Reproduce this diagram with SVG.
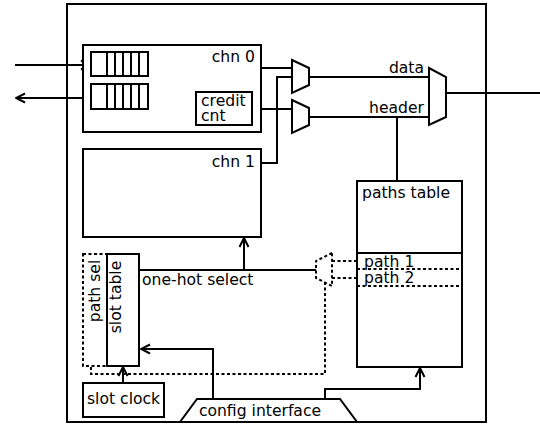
<svg xmlns="http://www.w3.org/2000/svg" width="540" height="424" viewBox="0 0 540 424">
  <style>
    .box { fill: #fff; stroke: #000; stroke-width: 2; }
    .ln { fill: none; stroke: #000; stroke-width: 2; }
    .dash { fill: none; stroke: #000; stroke-width: 2; stroke-dasharray: 3 2.5; }
    .lbl { font-family: "DejaVu Sans", sans-serif; font-size: 15.6px; fill: #000; }
    .r { text-anchor: end; }
    .m { text-anchor: middle; }
  </style>
  <defs>
    <marker id="arrow" viewBox="0 0 12 12" refX="11" refY="6" markerWidth="12" markerHeight="12" markerUnits="userSpaceOnUse" orient="auto">
      <polyline points="2,1.5 11,6 2,10.5" fill="none" stroke="#000" stroke-width="2"/>
    </marker>
  </defs>

  <!-- enclosing block -->
  <rect id="router" class="box" x="67" y="4" width="419" height="418"/>

  <!-- connectors -->
  <g id="connectors">
    <line class="ln" x1="15" y1="65" x2="90" y2="65" marker-end="url(#arrow)"/>
    <line class="ln" x1="91" y1="98" x2="16" y2="98" marker-end="url(#arrow)"/>
    <line class="ln" x1="148" y1="68" x2="292" y2="68"/>
    <polyline class="ln" points="261,163 277,163 277,77 292,77"/>
    <line class="ln" x1="252" y1="109" x2="292" y2="109"/>
    <line class="ln" x1="309" y1="77" x2="429" y2="77"/>
    <line class="ln" x1="309" y1="117" x2="429" y2="117"/>
    <line class="ln" x1="446" y1="93" x2="540" y2="93"/>
    <line class="ln" x1="397" y1="181" x2="397" y2="117"/>
    <line class="ln" x1="139" y1="270" x2="316" y2="270"/>
    <line class="ln" x1="244" y1="270" x2="244" y2="238" marker-end="url(#arrow)"/>
    <polyline class="dash" points="325,282 325,374 91,374 91,366"/>
    <line class="dash" x1="332" y1="261" x2="357" y2="261"/>
    <line class="dash" x1="332" y1="278" x2="357" y2="278"/>
    <polyline class="ln" points="213,399 213,349 141,349" marker-end="url(#arrow)"/>
    <line class="ln" x1="123" y1="383" x2="123" y2="367" marker-end="url(#arrow)"/>
    <polyline class="ln" points="325,399 325,389 420,389 420,368" marker-end="url(#arrow)"/>
  </g>

  <!-- channel 0 with its FIFOs and credit counter -->
  <g id="chn0">
    <rect class="box" x="83" y="45" width="178" height="87"/>
    <text class="lbl r" x="255" y="62">chn 0</text>
    <rect class="box" x="91" y="52" width="57" height="24"/>
    <path class="ln" d="M107,52V76M115,52V76M123,52V76M131,52V76M139,52V76"/>
    <rect class="box" x="91" y="84" width="57" height="25"/>
    <path class="ln" d="M107,84V109M115,84V109M123,84V109M131,84V109M139,84V109"/>
  </g>
  <g id="credit-cnt">
    <rect class="box" x="196" y="92" width="56" height="33"/>
    <text class="lbl" x="201" y="106">credit</text>
    <text class="lbl" x="201" y="121">cnt</text>
  </g>

  <g id="chn1">
    <rect class="box" x="83" y="149" width="178" height="88"/>
    <text class="lbl r" x="255" y="167">chn 1</text>
  </g>

  <!-- multiplexers -->
  <g id="mux-data">
    <polygon class="box" points="292,60 309,68 309,85 292,93"/>
  </g>
  <g id="mux-header">
    <polygon class="box" points="292,100 309,108 309,125 292,133"/>
  </g>
  <g id="mux-out">
    <polygon class="box" points="429,68 446,77 446,117 429,125"/>
    <text class="lbl r" x="424" y="73">data</text>
    <text class="lbl r" x="424" y="113">header</text>
  </g>
  <g id="mux-path">
    <polygon class="dash" style="fill:#fff" points="332,253 316,261 316,278 332,286"/>
  </g>

  <g id="paths-table">
    <rect class="box" x="357" y="181" width="105" height="186"/>
    <text class="lbl" x="362" y="198">paths table</text>
    <line class="ln" x1="357" y1="253" x2="462" y2="253"/>
    <line class="dash" x1="357" y1="269" x2="462" y2="269"/>
    <line class="dash" x1="357" y1="286" x2="462" y2="286"/>
    <text class="lbl" x="364" y="267">path 1</text>
    <text class="lbl" x="364" y="283">path 2</text>
  </g>

  <text class="lbl" x="142" y="285">one-hot select</text>

  <g id="path-sel">
    <rect class="dash" x="83" y="254" width="24" height="112"/>
    <text class="lbl m" transform="translate(100,291) rotate(-90)">path sel</text>
  </g>
  <g id="slot-table">
    <rect class="box" x="107" y="254" width="32" height="112"/>
    <text class="lbl m" transform="translate(121,297) rotate(-90)">slot table</text>
  </g>

  <g id="slot-clock">
    <rect class="box" x="83" y="383" width="81" height="34"/>
    <text class="lbl" x="87" y="404">slot clock</text>
  </g>

  <g id="config-interface">
    <polygon class="box" points="180,422 197,399 340,399 357,422"/>
    <text class="lbl m" x="260" y="416">config interface</text>
  </g>
</svg>
